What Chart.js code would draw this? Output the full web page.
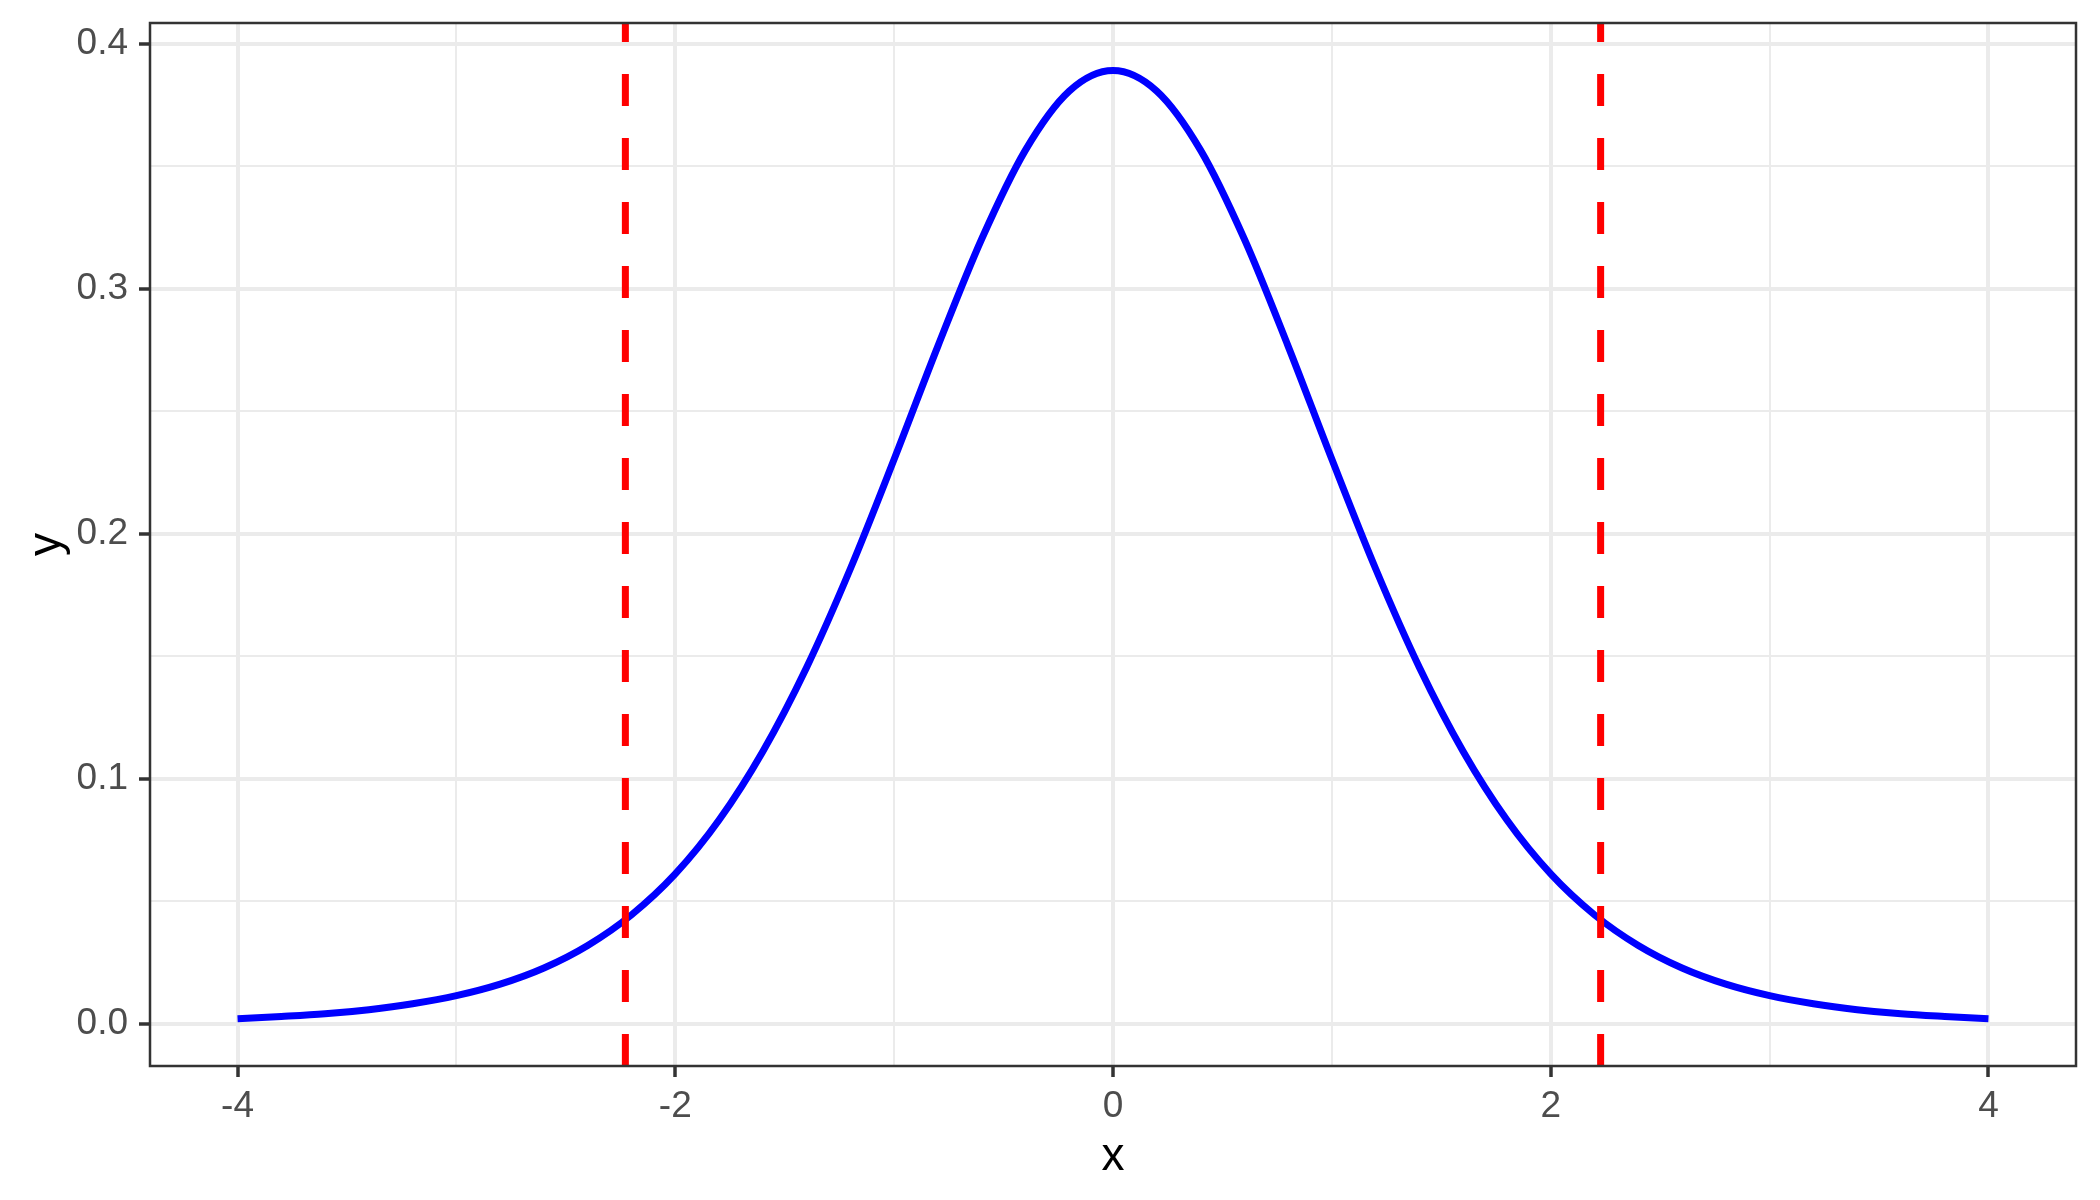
<!DOCTYPE html>
<html lang="en">
<head>
  <meta charset="UTF-8">
  <title>t density</title>
  <script src="https://cdn.jsdelivr.net/npm/chart.js"></script>
  <style>
    body {
      margin: 0;
      padding: 0;
      background: white;
    }
    canvas {
      display: block;
    }
  </style>
</head>
<body>
  <canvas id="densityChart" width="2100" height="1200"></canvas>

  <script>
    // curve, every 0.2 from -4 to 4
    const xValues = [-4.0, -3.8, -3.6, -3.4, -3.2, -3.0, -2.8, -2.6, -2.4, -2.2, -2.0,
                     -1.8, -1.6, -1.4, -1.2, -1.0, -0.8, -0.6, -0.4, -0.2, 0.0,
                     0.2, 0.4, 0.6, 0.8, 1.0, 1.2, 1.4, 1.6, 1.8, 2.0,
                     2.2, 2.4, 2.6, 2.8, 3.0, 3.2, 3.4, 3.6, 3.8, 4.0];
    const yValues = [0.0020, 0.0029, 0.0040, 0.0057, 0.0081, 0.0114, 0.0161, 0.0227, 0.0319, 0.0444, 0.0611,
                     0.0831, 0.1111, 0.1454, 0.1857, 0.2304, 0.2766, 0.3203, 0.3566, 0.3807, 0.3891,
                     0.3807, 0.3566, 0.3203, 0.2766, 0.2304, 0.1857, 0.1454, 0.1111, 0.0831, 0.0611,
                     0.0444, 0.0319, 0.0227, 0.0161, 0.0114, 0.0081, 0.0057, 0.0040, 0.0029, 0.0020];

    // dashed cut-off lines
    const cutoffs = [-2.228, 2.228];

    // axes
    const xRange = [-4.4, 4.4];
    const yRange = [-0.0173, 0.4085];
    const xMajor = [-4, -2, 0, 2, 4];
    const xMinor = [-3, -1, 1, 3];
    const yMajor = [0, 0.1, 0.2, 0.3, 0.4];
    const yMinor = [0.05, 0.15, 0.25, 0.35];

    const fontFamily = "'Liberation Sans', Arial, sans-serif";

    function isMajor(list, v) {
      return list.some(m => Math.abs(m - v) < 1e-9);
    }

    // ggplot style panel border on top
    const panelBorder = {
      id: 'panelBorder',
      afterDatasetsDraw(chart) {
        const a = chart.chartArea;
        const ctx = chart.ctx;
        ctx.save();
        ctx.strokeStyle = '#333333';
        ctx.lineWidth = 2.5;
        ctx.strokeRect(a.left, a.top, a.right - a.left, a.bottom - a.top);
        ctx.restore();
      }
    };

    const curveData = xValues.map((x, i) => ({ x: x, y: yValues[i] }));

    const datasets = [{
      label: 'density',
      data: curveData,
      borderColor: '#0000ff',
      borderWidth: 7,
      pointRadius: 0,
      cubicInterpolationMode: 'monotone',
      fill: false,
      order: 1
    }];

    cutoffs.forEach(c => {
      datasets.push({
        label: 'cutoff',
        data: [{ x: c, y: yRange[0] }, { x: c, y: yRange[1] }],
        borderColor: '#ff0000',
        borderWidth: 7,
        borderDash: [32, 32],
        borderCapStyle: 'butt',
        pointRadius: 0,
        clip: 0,
        fill: false,
        order: 0
      });
    });

    const ctx = document.getElementById('densityChart').getContext('2d');
    const densityChart = new Chart(ctx, {
      type: 'line',
      data: { datasets: datasets },
      options: {
        responsive: false,
        animation: false,
        layout: {
          padding: { top: 23, right: 24, left: 0, bottom: 0 }
        },
        plugins: {
          legend: { display: false },
          tooltip: { enabled: false }
        },
        scales: {
          x: {
            type: 'linear',
            min: xRange[0],
            max: xRange[1],
            afterBuildTicks: scale => {
              scale.ticks = xMajor.concat(xMinor).sort((a, b) => a - b).map(v => ({ value: v }));
            },
            afterFit: scale => { scale.height = 134; },
            ticks: {
              autoSkip: false,
              maxRotation: 0,
              padding: 8,
              color: '#4d4d4d',
              font: { family: fontFamily, size: 37 },
              callback: v => isMajor(xMajor, v) ? String(v) : ''
            },
            grid: {
              color: '#ebebeb',
              lineWidth: c => isMajor(xMajor, c.tick.value) ? 4 : 2,
              tickLength: 11,
              tickWidth: 3.5,
              tickColor: c => isMajor(xMajor, c.tick.value) ? '#333333' : 'rgba(0,0,0,0)'
            },
            border: { display: false },
            title: {
              display: true,
              text: 'x',
              color: '#000000',
              font: { family: fontFamily, size: 46 },
              padding: { top: 0, bottom: 15 }
            }
          },
          y: {
            type: 'linear',
            min: yRange[0],
            max: yRange[1],
            afterBuildTicks: scale => {
              scale.ticks = yMajor.concat(yMinor).sort((a, b) => a - b).map(v => ({ value: v }));
            },
            afterFit: scale => {
              scale.width = 150;
              scale.paddingTop = 0;
              scale.paddingBottom = 0;
            },
            ticks: {
              autoSkip: false,
              padding: 11,
              color: '#4d4d4d',
              font: { family: fontFamily, size: 37 },
              callback: v => isMajor(yMajor, v) ? v.toFixed(1) : ''
            },
            grid: {
              color: '#ebebeb',
              lineWidth: c => isMajor(yMajor, c.tick.value) ? 4 : 2,
              tickLength: 11,
              tickWidth: 3.5,
              tickColor: c => isMajor(yMajor, c.tick.value) ? '#333333' : 'rgba(0,0,0,0)'
            },
            border: { display: false },
            title: {
              display: true,
              text: 'y',
              color: '#000000',
              font: { family: fontFamily, size: 46 },
              padding: { top: 20, bottom: 0 }
            }
          }
        }
      },
      plugins: [panelBorder]
    });
  </script>
</body>
</html>
